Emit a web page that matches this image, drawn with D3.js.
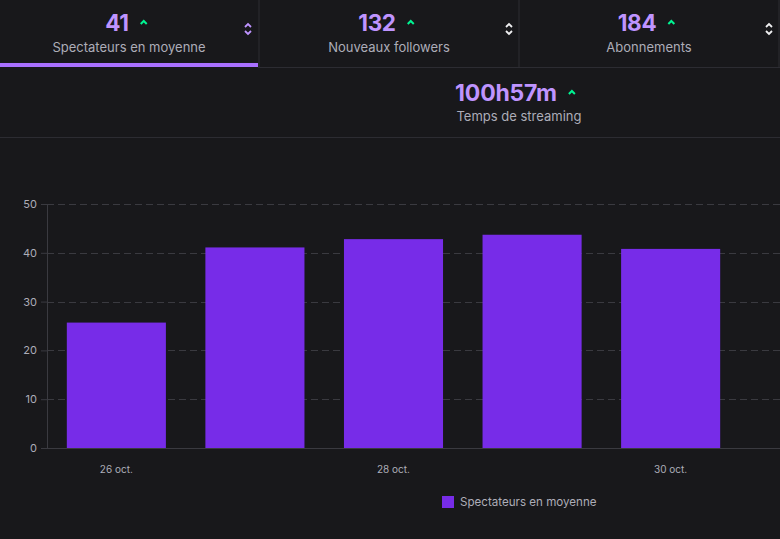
<!DOCTYPE html>
<html>
<head>
<meta charset="utf-8">
<script src="https://cdn.jsdelivr.net/npm/d3@7"></script>
<style>
  html, body { margin: 0; padding: 0; background: #18181b; }
  svg { display: block; font-family: Inter, "Noto Sans", sans-serif; }
</style>
</head>
<body>
<script>
const W = 780, H = 539;

// header stats
const statValues = ["41", "132", "184"];
const statLabels = ["Spectateurs en moyenne", "Nouveaux followers", "Abonnements"];
const streamValue = "100h57m";
const streamLabel = "Temps de streaming";

// chart data
const days = ["26 oct.", "27 oct.", "28 oct.", "29 oct.", "30 oct."];
const viewers = [25.7, 41.1, 42.8, 43.7, 40.8];
const yTicks = [0, 10, 20, 30, 40, 50];
const shownDays = ["26 oct.", "28 oct.", "30 oct."];
const seriesName = "Spectateurs en moyenne";

const purple = "#772ce8", light = "#bf94ff", green = "#00f593",
      grey = "#adadb8", line = "#2c2c32";

const svg = d3.select("body").append("svg")
    .attr("width", W).attr("height", H);

svg.append("rect").attr("width", W).attr("height", H).attr("fill", "#18181b");

// ---- header tabs
const tabW = 260;
const tabs = svg.selectAll("g.tab").data(statValues).join("g")
    .attr("class", "tab")
    .attr("transform", (d, i) => `translate(${i * tabW},0)`);

tabs.append("line")
    .attr("x1", tabW - 1).attr("x2", tabW - 1).attr("y1", 0).attr("y2", 67)
    .attr("stroke", line);

tabs.append("text")
    .attr("x", tabW / 2 - 13).attr("y", 31)
    .attr("text-anchor", "middle")
    .attr("fill", light).attr("font-size", 22.5).attr("font-weight", 700)
    .attr("letter-spacing", -0.3)
    .text(d => d);

tabs.append("text")
    .attr("x", tabW / 2 - 1).attr("y", 52)
    .attr("text-anchor", "middle")
    .attr("fill", grey).attr("font-size", 13)
    .text((d, i) => statLabels[i]);

function caret(g, x, y) {
  g.append("path")
    .attr("d", `M${x - 3},${y + 2} L${x},${y - 1} L${x + 3},${y + 2}`)
    .attr("fill", "none").attr("stroke", green).attr("stroke-width", 2);
}
tabs.each(function(d) {
  const g = d3.select(this);
  const tw = this.querySelector("text").getComputedTextLength();
  caret(g, tabW / 2 - 13 + tw / 2 + 15, 22);
});

// sort icons
tabs.append("path")
    .attr("d", "M-3,-2 L0,-5 L3,-2 M-3,2 L0,5 L3,2")
    .attr("transform", (d, i) => `translate(${i === 0 ? 248 : 249},29)`)
    .attr("fill", "none")
    .attr("stroke", (d, i) => i === 0 ? light : "#efeff1")
    .attr("stroke-width", 1.8);

// active underline
svg.append("rect").attr("x", 0).attr("y", 63).attr("width", 258).attr("height", 4)
    .attr("fill", "#a970ff");
svg.append("line").attr("x1", 258).attr("x2", W).attr("y1", 67.5).attr("y2", 67.5)
    .attr("stroke", line);

// streaming row
const sv = svg.append("text")
    .attr("x", 506).attr("y", 101)
    .attr("text-anchor", "middle")
    .attr("fill", light).attr("font-size", 23).attr("font-weight", 700)
    .attr("letter-spacing", -0.2)
    .text(streamValue);
caret(svg, 506 + sv.node().getComputedTextLength() / 2 + 15, 92);
svg.append("text")
    .attr("x", 519).attr("y", 121)
    .attr("text-anchor", "middle")
    .attr("fill", grey).attr("font-size", 13)
    .text(streamLabel);
svg.append("line").attr("x1", 0).attr("x2", W).attr("y1", 137.5).attr("y2", 137.5)
    .attr("stroke", line);

// ---- chart
const x0 = 47, y0 = 448;
const x = d3.scaleBand().domain(days).range([x0, 740]).paddingInner(0.285).paddingOuter(0.143);
const y = d3.scaleLinear().domain([0, 50]).range([y0, 204]);

const yAxis = svg.append("g")
    .attr("transform", `translate(${x0},0)`)
    .call(d3.axisLeft(y).tickValues(yTicks).tickSize(6).tickPadding(4));
yAxis.select(".domain").attr("stroke", "#3a3a40");
yAxis.selectAll(".tick line").attr("stroke", "#3a3a40");
yAxis.selectAll(".tick text").attr("fill", grey).attr("font-size", 11)
    .attr("font-family", "Inter, sans-serif");

svg.append("g").selectAll("line").data(yTicks.filter(t => t > 0)).join("line")
    .attr("x1", x0).attr("x2", W)
    .attr("y1", d => Math.round(y(d)) + 0.5).attr("y2", d => Math.round(y(d)) + 0.5)
    .attr("stroke", "#3a3a40").attr("stroke-dasharray", "7,4");

svg.append("g").selectAll("rect").data(viewers).join("rect")
    .attr("x", (d, i) => x(days[i]))
    .attr("width", x.bandwidth())
    .attr("y", d => y(d))
    .attr("height", d => y0 - y(d))
    .attr("fill", purple);

svg.append("line").attr("x1", x0).attr("x2", W).attr("y1", y0 + 0.5).attr("y2", y0 + 0.5)
    .attr("stroke", "#3a3a40");

const xAxis = svg.append("g")
    .attr("transform", `translate(0,${y0})`)
    .call(d3.axisBottom(x).tickValues(shownDays).tickSize(0).tickPadding(18));
xAxis.select(".domain").remove();
xAxis.selectAll(".tick text").attr("fill", grey).attr("font-size", 10)
    .attr("font-family", "Inter, sans-serif");

// legend
svg.append("rect").attr("x", 442).attr("y", 496).attr("width", 12).attr("height", 12)
    .attr("fill", purple);
svg.append("text").attr("x", 460).attr("y", 506)
    .attr("fill", grey).attr("font-size", 11.6)
    .text(seriesName);
</script>
</body>
</html>
